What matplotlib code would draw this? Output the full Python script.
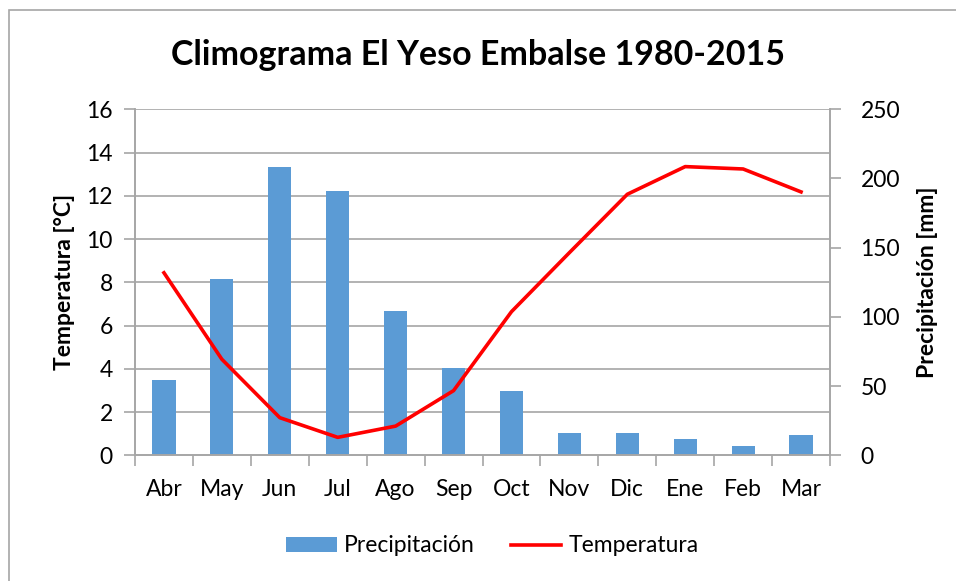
import matplotlib.pyplot as plt
from matplotlib.patches import Rectangle
import numpy as np

### Data
meses = ['Abr', 'May', 'Jun', 'Jul', 'Ago', 'Sep', 'Oct', 'Nov', 'Dic', 'Ene', 'Feb', 'Mar']
precipitacion = [54.4, 127.2, 208.5, 190.7, 104.0, 62.9, 46.2, 15.9, 15.9, 11.6, 6.7, 14.7]
temperatura = [8.44, 4.44, 1.74, 0.83, 1.35, 2.99, 6.64, 9.37, 12.07, 13.35, 13.24, 12.18]

plt.rcParams['font.family'] = ['Lato', 'DejaVu Sans']
grey = '#a6a6a6'
bar_col = '#5b9bd5'

fig = plt.figure(figsize=(9.56, 5.81), dpi=100)
# chart frame (only left and top edges visible)
fig.patches.append(Rectangle((9/956, -0.05), 1.1, 1 - 10/581 + 0.05, transform=fig.transFigure,
                             fill=False, edgecolor=grey, linewidth=1.2))

ax_t = fig.add_axes([135/956, 1 - 455.3/581, 695/956, 346/581])
ax_p = ax_t.twinx()

x = np.arange(len(meses))

# bars on the right axis, drawn behind the line
ax_p.bar(x, precipitacion, width=0.4, color=bar_col, label='Precipitación', zorder=2)
ax_p.set_ylim(0, 250)
ax_p.set_yticks(np.arange(0, 251, 50))

ax_t.set_zorder(ax_p.get_zorder() + 1)
ax_t.patch.set_visible(False)
ax_t.plot(x, temperatura, color='#ff0000', linewidth=2.6, label='Temperatura', zorder=3)
ax_t.set_ylim(0, 16)
ax_t.set_yticks(np.arange(0, 17, 2))
ax_t.set_xlim(-0.5, len(meses) - 0.5)

# gridlines (behind the bars)
for v in np.arange(2, 17, 2):
    ax_p.axhline(v * 250 / 16, color=grey, linewidth=1.2, zorder=1)

ax_t.set_xticks(x)
ax_t.set_xticklabels(meses)
ax_t.set_xticks(np.arange(-0.5, len(meses), 1), minor=True)
ax_t.tick_params(axis='x', which='major', length=0, pad=17, labelsize=16.5)
ax_t.tick_params(axis='x', which='minor', length=8, color=grey, width=1.2)
ax_t.tick_params(axis='y', length=8, color=grey, width=1.2, labelsize=16.5, pad=8)
ax_p.tick_params(axis='y', length=8, color=grey, width=1.2, labelsize=16.5, pad=14)

for a in (ax_t, ax_p):
    for s in a.spines.values():
        s.set_color(grey)
        s.set_linewidth(1.2)
    a.spines['top'].set_visible(False)

ax_t.set_ylabel('Temperatura [°C]', fontsize=16.5, fontweight='bold', labelpad=8)
ax_p.set_ylabel('Precipitación [mm]', fontsize=16.5, fontweight='bold', labelpad=12)

fig.text(0.5, 1 - 55/581, 'Climograma El Yeso Embalse 1980-2015', ha='center', va='center',
         fontsize=24.5, fontweight='bold')

h1, l1 = ax_p.get_legend_handles_labels()
h2, l2 = ax_t.get_legend_handles_labels()
fig.legend(h1 + h2, l1 + l2, loc='center', bbox_to_anchor=(0.515, 1 - 546/581), ncol=2,
           frameon=False, fontsize=16.5, handlelength=2.2, handleheight=0.6, columnspacing=1.6,
           handletextpad=0.3)

fig.savefig('out.png', dpi=100)
